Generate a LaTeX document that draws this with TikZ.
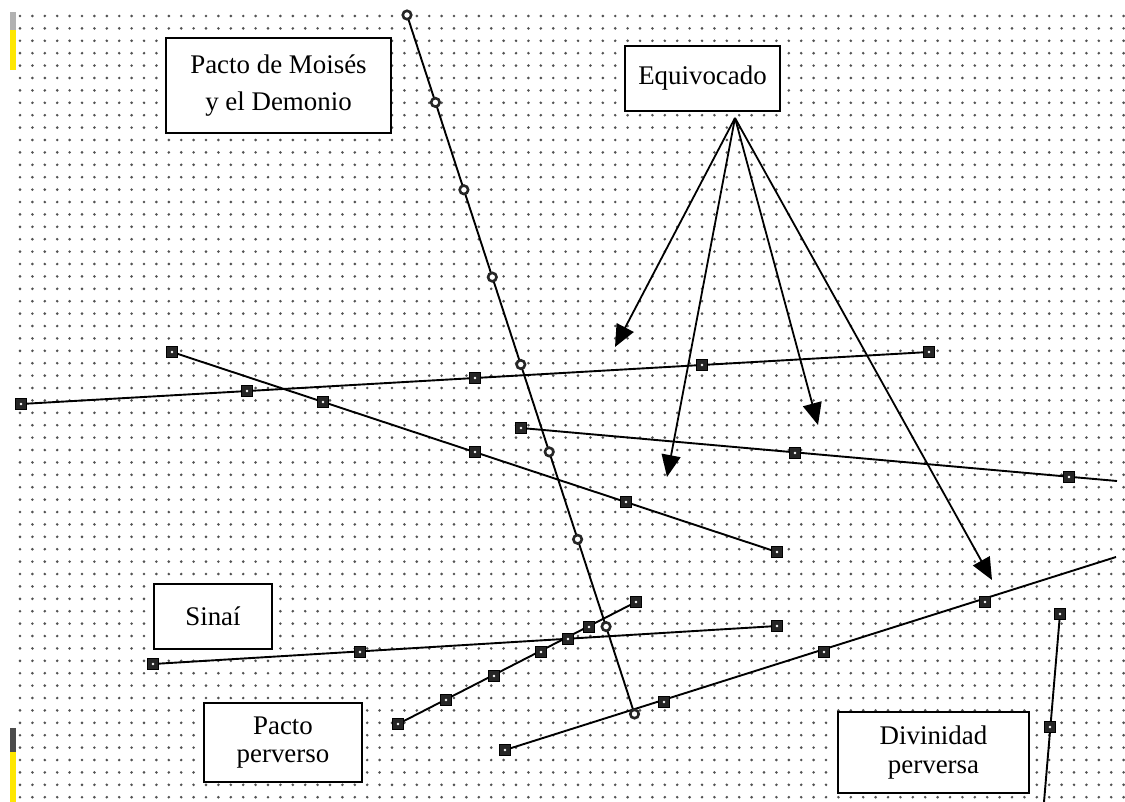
\documentclass[tikz,border=0pt]{standalone}
\usepackage{fontspec}
\setmainfont{Liberation Serif}
\usetikzlibrary{shapes,arrows.meta,positioning,calc}
\pgfdeclarelayer{grid}
\pgfdeclarelayer{lines}
\pgfsetlayers{grid,lines,main}
\tikzstyle{txtbox} = [rectangle, draw=black, fill=white, line width=2bp, align=center, inner sep=0pt, font=\fontsize{27}{29}\selectfont]
\tikzstyle{sq} = [rectangle, draw=black, fill=black!85, line width=0.8bp, minimum size=10.5bp, inner sep=0pt, path picture={\fill[white] (path picture bounding box.center) circle (1.4bp);}]
\tikzstyle{ring} = [circle, draw=black!85, fill=white, line width=2.6bp, minimum size=8.5bp, inner sep=0pt]
\tikzstyle{link} = [line width=1.9bp]
\tikzstyle{arrow} = [line width=1.8bp, -{Triangle[length=22bp,width=19bp]}]

\begin{document}
\begin{tikzpicture}[x=1bp,y=-1bp]
\useasboundingbox (0,0) rectangle (1125,802);

% HINTERGRUND - Punktraster
\begin{pgfonlayer}{grid}
\fill[white] (0,0) rectangle (1125,802);
\foreach \i in {0,...,89}
  \foreach \j in {0,...,63}
    \fill[black!68] ({20+12.4*\i},{16+12.4*\j}) circle (1.45);
\fill[gray!60] (10,12) rectangle (16,30);
\fill[yellow!90!orange] (10,30) rectangle (16,70);
\fill[black!70] (10,728) rectangle (16,752);
\fill[yellow!90!orange] (10,752) rectangle (16,802);
\end{pgfonlayer}

% TEXTKAESTEN
\node (moises) [txtbox, minimum width=225bp, minimum height=95bp, font=\fontsize{27}{37}\selectfont] at (278.5,85.5) {Pacto de Moisés\\y el Demonio};
\node (equiv) [txtbox, minimum width=155bp, minimum height=65bp] at (702.5,78.5) {Equivocado};
\node (sinai) [txtbox, minimum width=118bp, minimum height=65bp] at (213,616.5) {Sinaí};
\node (perverso) [txtbox, minimum width=158bp, minimum height=79bp] at (283,742.5) {Pacto\\perverso};
\node (divinidad) [txtbox, minimum width=191bp, minimum height=81bp] at (933.5,752.5) {Divinidad\\perversa};

% LINIE A - Kreise
\node (a0) [ring] at (407,15) {};
\node (a1) [ring] at (435.4,102.4) {};
\node (a2) [ring] at (463.9,189.8) {};
\node (a3) [ring] at (492.3,277.1) {};
\node (a4) [ring] at (520.8,364.5) {};
\node (a5) [ring] at (549.2,451.9) {};
\node (a6) [ring] at (577.6,539.3) {};
\node (a7) [ring] at (606.1,626.6) {};
\node (a8) [ring] at (634.5,714) {};

% LINIE B
\node (b1) [sq] at (21,404) {};
\node (b2) [sq] at (247,391) {};
\node (b3) [sq] at (475,378) {};
\node (b4) [sq] at (702,365) {};
\node (b5) [sq] at (929,352) {};

% LINIE C
\node (c1) [sq] at (172,352) {};
\node (c2) [sq] at (323,402) {};
\node (c3) [sq] at (475,452) {};
\node (c4) [sq] at (626,502) {};
\node (c5) [sq] at (777,552) {};

% LINIE D
\node (d1) [sq] at (521,428) {};
\node (d2) [sq] at (795,453) {};
\node (d3) [sq] at (1069,477) {};
\coordinate (dend) at (1117,481);

% LINIE E - Sinai
\node (e1) [sq] at (153,664) {};
\node (e2) [sq] at (360,652) {};
\node (e3) [sq] at (568,639) {};
\node (e4) [sq] at (777,626) {};

% LINIE F
\node (f1) [sq] at (398,724) {};
\node (f2) [sq] at (446,700) {};
\node (f3) [sq] at (494,676) {};
\node (f4) [sq] at (541,652) {};
\node (f5) [sq] at (589,627) {};
\node (f6) [sq] at (636,602) {};

% LINIE G
\node (g1) [sq] at (505,750) {};
\node (g2) [sq] at (664,702) {};
\node (g3) [sq] at (824,652) {};
\node (g4) [sq] at (985,602) {};
\coordinate (gend) at (1116,557);

% LINIE H
\node (h1) [sq] at (1060,614) {};
\node (h2) [sq] at (1050,727) {};
\coordinate (hend) at (1044,802);

% LINIEN (hinter den Markierungen)
\begin{pgfonlayer}{lines}
\draw [link] (a0.center) -- (a8.center);
\draw [link] (b1.center) -- (b5.center);
\draw [link] (c1.center) -- (c5.center);
\draw [link] (d1.center) -- (dend);
\draw [link] (e1.center) -- (e4.center);
\draw [link] (f1.center) -- (f6.center);
\draw [link] (g1.center) -- (gend);
\draw [link] (h1.center) -- (hend);
\end{pgfonlayer}

% PFEILE - Equivocado
\coordinate (fork) at (735,118);
\coordinate (tip1) at (615,347);
\coordinate (tip2) at (667,477);
\coordinate (tip3) at (818,425);
\coordinate (tip4) at (992,580);
\draw [arrow] (fork) -- (tip1);
\draw [arrow] (fork) -- (tip2);
\draw [arrow] (fork) -- (tip3);
\draw [arrow] (fork) -- (tip4);

\end{tikzpicture}
\end{document}
